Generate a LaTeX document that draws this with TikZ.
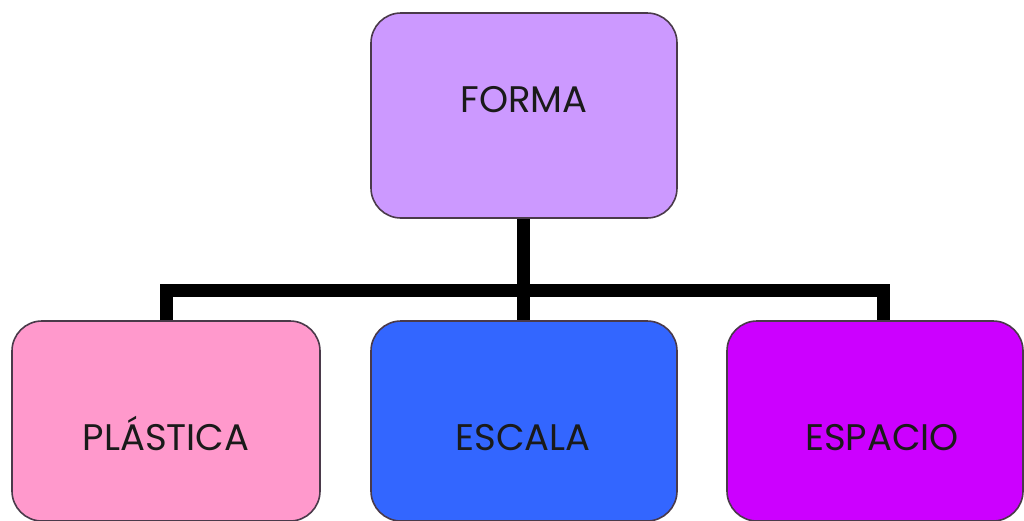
\documentclass[tikz,border=0pt]{standalone}
\usepackage{fontspec}
\setmainfont{Poppins}
\definecolor{cforma}{HTML}{CC99FF}
\definecolor{cplastica}{HTML}{FF99CC}
\definecolor{cescala}{HTML}{3366FF}
\definecolor{cespacio}{HTML}{CC00FF}
\definecolor{cborder}{HTML}{4A3A4A}
\definecolor{ctext}{HTML}{1A1A1A}
\begin{document}
\begin{tikzpicture}[x=1pt,y=-1pt,
  box/.style={draw=cborder,line width=1.6pt,rounded corners=30pt},
  lbl/.style={font=\fontsize{37}{40}\selectfont,text=ctext,inner sep=0pt,anchor=base},
  conn/.style={line width=13pt,black}]
\useasboundingbox (0,0) rectangle (1024,520);
% boxes
\draw[box,fill=cforma] (371,13) rectangle (677,218);
\draw[box,fill=cplastica] (12,321) rectangle (320,521);
\draw[box,fill=cescala] (371,321) rectangle (677,521);
\draw[box,fill=cespacio] (727,321) rectangle (1023,521);
% anchor coordinates
\coordinate (ftop) at (523,218.8);
\coordinate (mid) at (523,290);
\coordinate (pl) at (166,320.2);
\coordinate (es) at (523,320.2);
\coordinate (ep) at (883,320.2);
% connectors
\draw[conn] (ftop) -- (mid);
\draw[conn,line cap=butt] (pl) |- (mid) -| (ep);
\draw[conn] (mid) -- (es);
% labels
\node[lbl] (forma) at (524,112) {FORMA};
\node[lbl] (plastica) at (166,450) {PLÁSTICA};
\node[lbl] (escala) at (523,450) {ESCALA};
\node[lbl] (espacio) at (882,450) {ESPACIO};
\end{tikzpicture}
\end{document}
